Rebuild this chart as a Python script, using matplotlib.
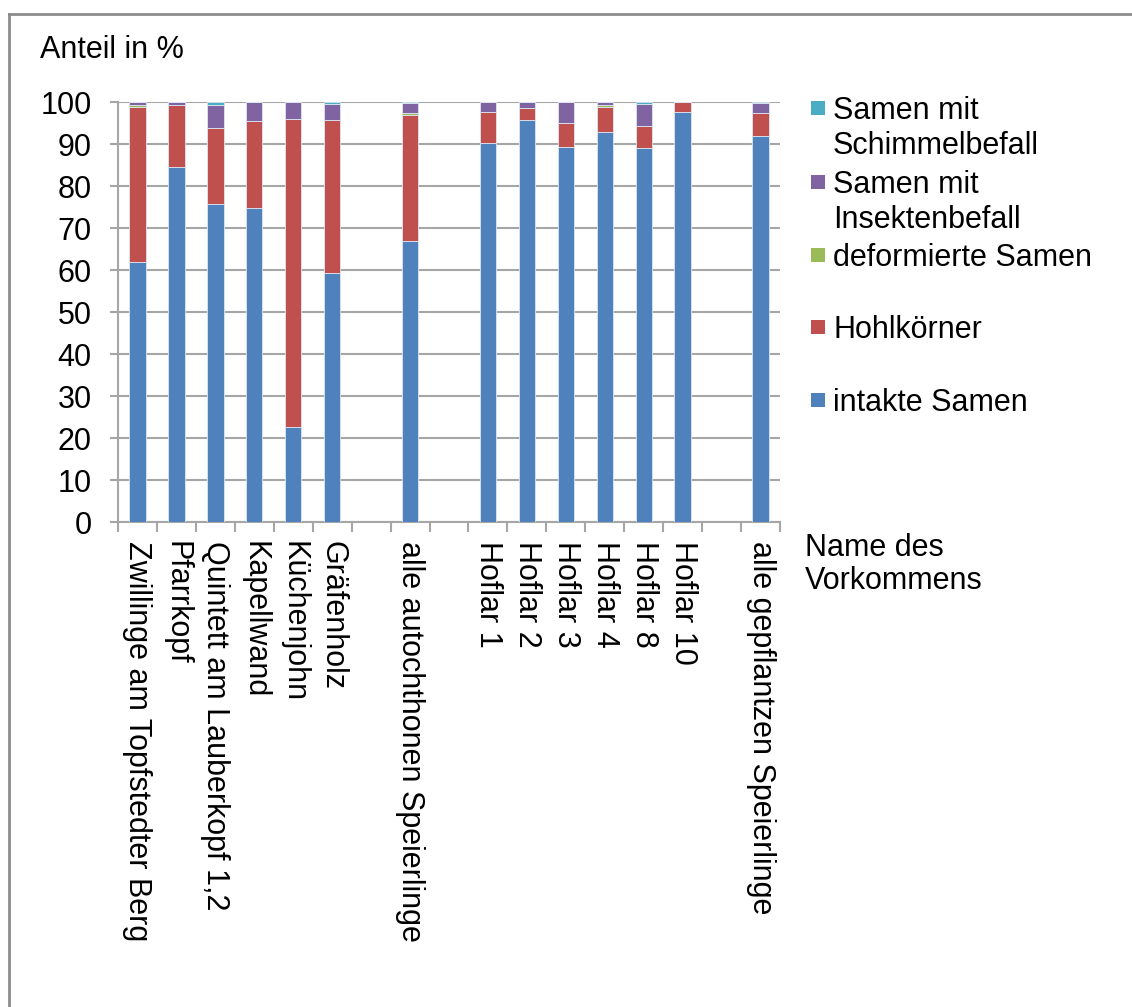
import matplotlib
matplotlib.use("Agg")
import matplotlib.pyplot as plt
from matplotlib.lines import Line2D
from matplotlib.patches import Rectangle
import numpy as np

plt.rcParams['font.family'] = ['Liberation Sans', 'DejaVu Sans']

categories = [
    "Zwillinge am Topfstedter Berg", "Pfarrkopf", "Quintett am Lauberkopf 1,2",
    "Kapellwand", "Küchenjohn", "Gräfenholz", "",
    "alle autochthonen Speierlinge", "",
    "Hoflar 1", "Hoflar 2", "Hoflar 3", "Hoflar 4", "Hoflar 8", "Hoflar 10", "",
    "alle gepflantzen Speierlinge",
]

intakt    = [62.0, 84.6, 75.7, 74.8, 22.7, 59.3, 0, 66.9, 0, 90.3, 95.7, 89.3, 92.9, 89.0, 97.7, 0, 91.9]
hohl      = [36.9, 14.6, 18.2, 20.6, 73.3, 36.4, 0, 30.0, 0,  7.3,  2.9,  5.8,  6.0,  5.3,  2.3, 0,  5.4]
deform    = [ 0.5,  0.0,  0.0,  0.0,  0.0,  0.0, 0,  0.4, 0,  0.0,  0.0,  0.0,  0.4,  0.0,  0.0, 0,  0.0]
insekt    = [ 0.6,  0.8,  5.3,  4.6,  4.0,  3.8, 0,  2.4, 0,  2.4,  1.4,  4.9,  0.7,  5.3,  0.0, 0,  2.5]
schimmel  = [ 0.0,  0.0,  0.8,  0.0,  0.0,  0.5, 0,  0.3, 0,  0.0,  0.0,  0.0,  0.0,  0.4,  0.0, 0,  0.2]

series = [
    ("intakte Samen", intakt, "#4F81BD"),
    ("Hohlkörner", hohl, "#C0504D"),
    ("deformierte Samen", deform, "#9BBB59"),
    ("Samen mit\nInsektenbefall", insekt, "#8064A2"),
    ("Samen mit\nSchimmelbefall", schimmel, "#4BACC6"),
]

W, H = 1132, 1007
fig = plt.figure(figsize=(W / 100, H / 100), dpi=100)
ax = fig.add_axes([118 / W, 1 - 522 / H, (780 - 118) / W, (522 - 102) / H])

n_slots = len(categories)
x = np.arange(n_slots)
bottom = np.zeros(n_slots)
for name, vals, col in series:
    v = np.array(vals)
    ax.bar(x, v, 0.42, bottom=bottom, color=col, edgecolor="#dde6f2", linewidth=0.6, zorder=3)
    bottom += v

grid_col = "#a6a6a6"
ax.set_xlim(-0.5, n_slots - 0.5)
ax.set_ylim(0, 100)
ax.set_yticks(np.arange(0, 101, 10))
ax.yaxis.grid(True, color=grid_col, linewidth=1.5, zorder=0)
for s in ["top", "right"]:
    ax.spines[s].set_visible(False)
for s in ["left", "bottom"]:
    ax.spines[s].set_color(grid_col)
    ax.spines[s].set_linewidth(1.5)

fs = 22
ax.tick_params(axis="y", length=6, width=1.5, color=grid_col, pad=13, labelsize=fs)

ax.set_xticks(x)
ax.set_xticklabels(categories, rotation=-90, va="top", ha="center", fontsize=fs)
ax.tick_params(axis="x", which="major", length=0, pad=14)
ax.set_xticks(np.arange(-0.5, n_slots, 1.0), minor=True)
ax.tick_params(axis="x", which="minor", length=7, width=1.5, color=grid_col)

fig.text(40 / W, 1 - 50 / H, "Anteil in %", fontsize=fs, va="center", ha="left")
fig.text(805 / W, 1 - 533 / H, "Name des\nVorkommens", fontsize=fs, va="top", ha="left",
         linespacing=1.15)

# legend, drawn in figure pixels
legend_rows = [
    ("Samen mit\nSchimmelbefall", "#4BACC6", 108),
    ("Samen mit\nInsektenbefall", "#8064A2", 182),
    ("deformierte Samen", "#9BBB59", 255),
    ("Hohlkörner", "#C0504D", 327),
    ("intakte Samen", "#4F81BD", 400),
]
for label, col, yc in legend_rows:
    fig.patches.append(Rectangle((811 / W, 1 - (yc + 7) / H), 14 / W, 14 / H,
                                 transform=fig.transFigure, facecolor=col, edgecolor="none"))
    fig.text(833 / W, 1 - (yc - 12) / H, label, fontsize=fs, va="top", ha="left",
             linespacing=1.2)

# outer chart frame
frame_col = "#8c8c8c"
fig.add_artist(Line2D([9 / W, 9 / W], [0, 1 - 14 / H], transform=fig.transFigure,
                      color=frame_col, linewidth=2))
fig.add_artist(Line2D([9 / W, 1], [1 - 14 / H, 1 - 14 / H], transform=fig.transFigure,
                      color=frame_col, linewidth=2))

fig.savefig("out.png", dpi=100)
